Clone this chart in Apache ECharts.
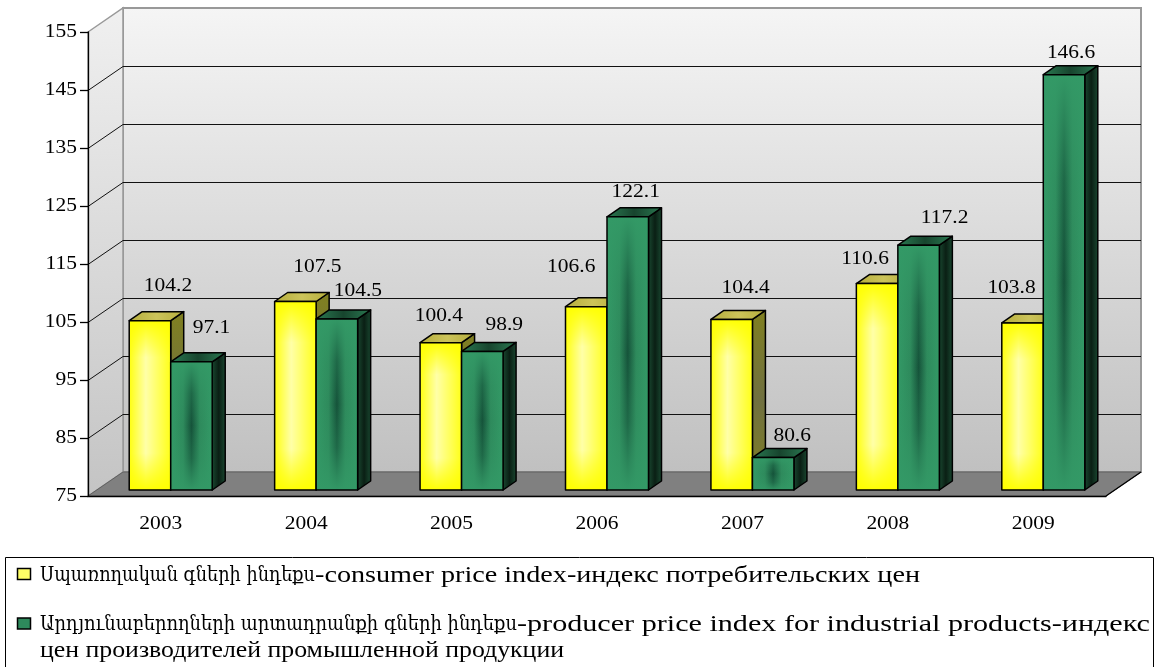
<!DOCTYPE html>
<html>
<head>
<meta charset="utf-8">
<script src="https://cdn.jsdelivr.net/npm/echarts@6/dist/echarts.min.js"></script>
<style>
  html, body { margin: 0; padding: 0; background: #fff; }
  #chart { width: 1157px; height: 667px; }
</style>
</head>
<body>
<div id="chart"></div>
<script>
const years = ['2003', '2004', '2005', '2006', '2007', '2008', '2009'];
const cpi = [104.2, 107.5, 100.4, 106.6, 104.4, 110.6, 103.8];
const ppi = [97.1, 104.5, 98.9, 122.1, 80.6, 117.2, 146.6];
const yTicks = [75, 85, 95, 105, 115, 125, 135, 145, 155];
const cpiName = 'Սպառողական գների ինդեքս-consumer price index-индекс потребительских цен';
const ppiName = 'Արդյունաբերողների արտադրանքի գների ինդեքս-producer price index for industrial products-индекс цен производителей промышленной продукции';

// label nudges (px) from the bar's front-top centre, as placed in the original
const cpiLabelShift = [[18, -35], [22, -34], [-2, -27], [-15, -40], [14, -31], [-12, -25], [-11, -35]];
const ppiLabelShift = [[20, -34], [21, -28], [22, -26], [8, -25], [19, -22], [26, -27], [7, -22]];

const chart = echarts.init(document.getElementById('chart'), null, { renderer: 'canvas' });

const serif = '"Liberation Serif", "Times New Roman", serif';
const armFont = '"DejaVu Serif", serif';
const depth = [35, -24];      // wall depth
const barShift = [10, -6];    // bars sit a little behind the front edge
const barDepth = [13, -9];
const barW = 41.5;
const numStretch = 1.13;      // the original's digits are a bit wide

const measureCtx = document.createElement('canvas').getContext('2d');
const textWidth = (s, font) => { measureCtx.font = font; return measureCtx.measureText(s).width; };

const lin = (x, y, x2, y2, stops) => new echarts.graphic.LinearGradient(x, y, x2, y2,
  stops.map(s => ({ offset: s[0], color: s[1] })));

const faces = {
  cpi: {
    front: lin(0, 0, 1, 0, [[0, '#ffff10'], [0.4, '#ffffa8'], [1, '#ffff18']]),
    frontV: lin(0, 0, 0, 1, [[0, 'rgba(255,255,0,1)'], [0.22, 'rgba(255,255,0,0)'], [0.78, 'rgba(255,255,0,0)'], [1, 'rgba(255,255,0,1)']]),
    top: lin(0, 0, 1, 0, [[0, '#b5ad3c'], [0.5, '#ccc45a'], [1, '#b5ad3c']]),
    side: lin(0, 0, 0, 1, [[0, '#808020'], [0.5, '#707040'], [1, '#808020']])
  },
  ppi: {
    front: lin(0, 0, 1, 0, [[0, '#339966'], [0.3, '#2e8a5c'], [0.5, '#15533a'], [0.7, '#2e8a5c'], [1, '#339966']]),
    frontV: lin(0, 0, 0, 1, [[0, 'rgba(51,153,102,1)'], [0.25, 'rgba(51,153,102,0.3)'], [0.5, 'rgba(51,153,102,0)'], [0.75, 'rgba(51,153,102,0.3)'], [1, 'rgba(51,153,102,1)']]),
    top: lin(0, 0, 1, 0, [[0, '#2b7a52'], [0.5, '#17452e'], [1, '#2b7a52']]),
    side: lin(0, 0, 1, 0, [[0, '#1a4a32'], [0.5, '#0a1f14'], [1, '#1a4a32']])
  }
};

function numText(text, x, y, align) {
  return {
    type: 'text', x: x, y: y, scaleX: numStretch, z2: 100,
    style: { text: text, x: 0, y: 0, align: align, verticalAlign: 'middle', font: '19px ' + serif, fill: '#000' }
  };
}

function barRenderer(key, offset, shifts) {
  return function (params, api) {
    const idx = api.value(0);
    const val = api.value(1);
    const top = api.coord([idx, val]);
    const base = api.coord([idx, 75]);
    const x0 = top[0] + offset;
    const x1 = x0 + barW;
    const yT = top[1] + barShift[1];
    const yB = base[1] + barShift[1];
    const f = faces[key];
    const dx = barDepth[0], dy = barDepth[1];
    const edge = { stroke: '#000', lineWidth: 1.5, lineJoin: 'round' };
    const sh = shifts[params.dataIndex];
    return {
      type: 'group',
      children: [
        { type: 'polygon', shape: { points: [[x1, yT], [x1 + dx, yT + dy], [x1 + dx, yB + dy], [x1, yB]] },
          style: Object.assign({ fill: f.side }, edge) },
        { type: 'polygon', shape: { points: [[x0, yT], [x1, yT], [x1 + dx, yT + dy], [x0 + dx, yT + dy]] },
          style: Object.assign({ fill: f.top }, edge) },
        { type: 'rect', shape: { x: x0, y: yT, width: barW, height: yB - yT },
          style: { fill: f.front } },
        { type: 'rect', shape: { x: x0, y: yT, width: barW, height: yB - yT },
          style: Object.assign({ fill: f.frontV }, edge) },
        numText(val.toFixed(1), x0 + barW / 2 + sh[0], yT + sh[1], 'center')
      ]
    };
  };
}

function roomRenderer(params) {
  const c = params.coordSys;
  const x = c.x, y = c.y, w = c.width, h = c.height;
  const dx = depth[0], dy = depth[1];
  const wallFill = lin(0, 0, 0, 1, [[0, '#f5f5f5'], [1, '#c0c0c0']]);
  return {
    type: 'group',
    children: [
      { type: 'rect', shape: { x: x + dx, y: y + dy, width: w, height: h },
        style: { fill: wallFill, stroke: '#999', lineWidth: 2 } },
      { type: 'polygon', shape: { points: [[x, y], [x + dx, y + dy], [x + dx, y + h + dy], [x, y + h]] },
        style: { fill: lin(0, 0, 0, 1, [[0, '#f0f0f0'], [1, '#c4c4c4']]), stroke: '#999', lineWidth: 1.5 } },
      { type: 'polygon', shape: { points: [[x, y + h], [x + w, y + h], [x + w + dx, y + h + dy], [x + dx, y + h + dy]] },
        style: { fill: '#808080', stroke: '#606060', lineWidth: 1 } },
      { type: 'line', shape: { x1: x + w, y1: y + h, x2: x + w + dx, y2: y + h + dy },
        style: { stroke: '#000', lineWidth: 1.3 } }
    ]
  };
}

// side-wall and back-wall gridlines plus the value labels
function gridRenderer(params, api) {
  const v = api.value(0);
  const c = params.coordSys;
  const yv = Math.round(api.coord([0, v])[1]) + 0.5;
  const dx = depth[0], dy = depth[1];
  const children = [numText(String(v), c.x - 11, yv, 'right')];
  if (v !== yTicks[0] && v !== yTicks[yTicks.length - 1]) {
    children.push({
      type: 'polyline',
      shape: { points: [[c.x, yv], [c.x + dx, yv + dy], [c.x + c.width + dx, yv + dy]] },
      style: { stroke: '#111', lineWidth: 1, fill: null }
    });
  }
  return { type: 'group', children: children };
}

function yearRenderer(params, api) {
  const p = api.coord([api.value(0), 75]);
  return numText(years[params.dataIndex], p[0], p[1] + 28, 'center');
}

// legend, stretched to the widths the original text takes
function fitText(s, font, x, y, width) {
  return {
    type: 'text', x: x, y: y, scaleX: width / textWidth(s, font),
    style: { text: s, x: 0, y: 0, font: font, fill: '#000', verticalAlign: 'middle' }
  };
}
const splitAt = ppiName.indexOf(' цен');
const ppiLine1 = ppiName.slice(0, splitAt);
const ppiLine2 = ppiName.slice(splitAt + 1);
const cut = s => s.indexOf('-');
const latFont = '24px ' + serif;
const arm = '21px ' + armFont;

chart.setOption({
  animation: false,
  backgroundColor: '#fff',
  grid: { left: 88, right: 51, top: 32, bottom: 171 },
  xAxis: {
    type: 'category',
    data: years,
    z: 10,
    axisLine: { lineStyle: { color: '#000', width: 1.3 } },
    axisTick: { length: 7, lineStyle: { color: '#000', width: 1.3 } },
    axisLabel: { show: false },
    splitLine: { show: false }
  },
  yAxis: {
    type: 'value',
    min: 75, max: 155, interval: 10,
    z: 10,
    axisLine: { show: true, lineStyle: { color: '#000', width: 1.3 } },
    axisTick: { show: true, length: 8, lineStyle: { color: '#000', width: 1.3 } },
    axisLabel: { show: false },
    splitLine: { show: false }
  },
  graphic: [
    { type: 'rect', shape: { x: 5.5, y: 557.5, width: 1148, height: 130 },
      style: { fill: 'none', stroke: '#000', lineWidth: 1 } },
    { type: 'rect', shape: { x: 17.5, y: 568.5, width: 13, height: 11 },
      style: { fill: '#ffff66', stroke: '#000', lineWidth: 1.5 } },
    { type: 'rect', shape: { x: 17.5, y: 618, width: 13, height: 11 },
      style: { fill: '#2e8a5c', stroke: '#000', lineWidth: 1.5 } },
    fitText(cpiName.slice(0, cut(cpiName)), arm, 40, 576, 275),
    fitText(cpiName.slice(cut(cpiName)), latFont, 315, 576, 605),
    fitText(ppiLine1.slice(0, cut(ppiLine1)), arm, 40, 625, 477),
    fitText(ppiLine1.slice(cut(ppiLine1)), latFont, 517, 625, 633),
    fitText(ppiLine2, latFont, 40, 651, 524)
  ],
  series: [
    { type: 'custom', name: 'room', z: 1, silent: true, data: [[0]], renderItem: roomRenderer },
    { type: 'custom', name: 'grid', z: 1, silent: true, data: yTicks.map(v => [v]),
      encode: { y: 0 }, renderItem: gridRenderer },
    { type: 'custom', name: 'years', z: 1, silent: true, data: years.map((y, i) => [i]),
      encode: { x: 0 }, renderItem: yearRenderer },
    { type: 'custom', name: cpiName, z: 3, data: cpi.map((v, i) => [i, v]),
      encode: { x: 0, y: 1 }, renderItem: barRenderer('cpi', -31.5, cpiLabelShift) },
    { type: 'custom', name: ppiName, z: 3, data: ppi.map((v, i) => [i, v]),
      encode: { x: 0, y: 1 }, renderItem: barRenderer('ppi', 10, ppiLabelShift) }
  ]
});
</script>
</body>
</html>
